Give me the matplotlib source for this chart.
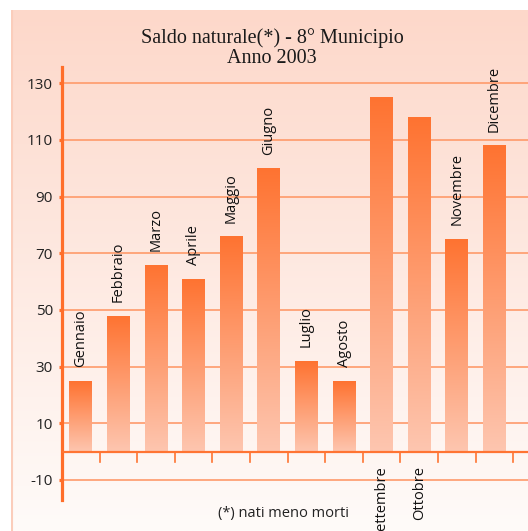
import numpy as np
import matplotlib
matplotlib.use("Agg")
import matplotlib.pyplot as plt
from matplotlib.colors import LinearSegmentedColormap

plt.rcParams["axes.unicode_minus"] = False

# Data
mesi = ["Gennaio", "Febbraio", "Marzo", "Aprile", "Maggio", "Giugno",
        "Luglio", "Agosto", "Settembre", "Ottobre", "Novembre", "Dicembre"]
saldo = [25, 48, 66, 61, 76, 100, 32, 25, 125, 118, 75, 108]
# months whose label sits under the zero line
sotto = ["Settembre", "Ottobre"]
yticks = [-10, 10, 30, 50, 70, 90, 110, 130]

fig = plt.figure(figsize=(5.28, 5.31), dpi=100)

# background panel with vertical gradient
bg = fig.add_axes([11 / 528, 0, 1 - 11 / 528, 1 - 10 / 531])
bg_cmap = LinearSegmentedColormap.from_list("bg", ["#fffbf9", "#fdd8ca"])
bg.imshow(np.linspace(0, 1, 256).reshape(-1, 1), aspect="auto", cmap=bg_cmap,
          origin="lower", extent=[0, 1, 0, 1])
bg.axvline(0.002, color="#fbcdbb", lw=1.5)
bg.set_axis_off()

ax = fig.add_axes([62 / 528, 31 / 531, (528 - 62) / 528, 433 / 531])
ax.patch.set_alpha(0)
x = np.arange(len(mesi))

for t in yticks:
    ax.axhline(t, color="#ff9a6a", lw=1.2, zorder=1)

bars = ax.bar(x, saldo, width=0.61, color="none", zorder=2)
bar_cmap = LinearSegmentedColormap.from_list("bar", ["#fdc6b0", "#ff7331"])
grad = np.linspace(0, 1, 256).reshape(-1, 1)
for b in bars:
    x0 = b.get_x()
    im = ax.imshow(grad, aspect="auto", cmap=bar_cmap, origin="lower",
                   extent=[x0, x0 + b.get_width(), 0, b.get_height()], zorder=2)
    im.set_clip_path(b)
ax.set_xlim(-0.5, 11.89)
ax.set_ylim(-17.1, 135.7)

# zero line with separators
ax.axhline(0, color="#ff7433", lw=1.6, zorder=3)
for s in np.arange(0.5, 12, 1):
    ax.plot([s, s], [0, -3.6], color="#ff7433", lw=1.2, zorder=3)

for xi, m, v in zip(x, mesi, saldo):
    if m in sotto:
        ax.text(xi, -5.2, m, rotation=90, ha="center", va="top",
                fontsize=10.5, family="Open Sans", color="#111111")
    else:
        ax.text(xi, v + 4.8, m, rotation=90, ha="center", va="bottom",
                fontsize=10.5, family="Open Sans", color="#111111")

for sp in ["top", "right", "bottom"]:
    ax.spines[sp].set_visible(False)
ax.spines["left"].set_color("#ff6e2a")
ax.spines["left"].set_linewidth(2.3)
ax.set_xticks([])
ax.set_yticks(yticks)
ax.tick_params(axis="y", length=2.5, width=2.3, color="#ff6e2a", pad=4,
               labelsize=11, labelcolor="#222222")
for lab in ax.get_yticklabels():
    lab.set_family("Open Sans")

fig.text(272 / 528, 1 - 48 / 531, "Saldo naturale(*) - 8° Municipio\nAnno 2003",
         ha="center", va="center", fontsize=14.5, family="Liberation Serif",
         color="#1a1a1a", linespacing=1.1)
fig.text(283 / 528, 1 - 513 / 531, "(*) nati meno morti", ha="center",
         va="center", fontsize=10.5, family="Open Sans", color="#222222")

fig.savefig("out.png", dpi=100)
